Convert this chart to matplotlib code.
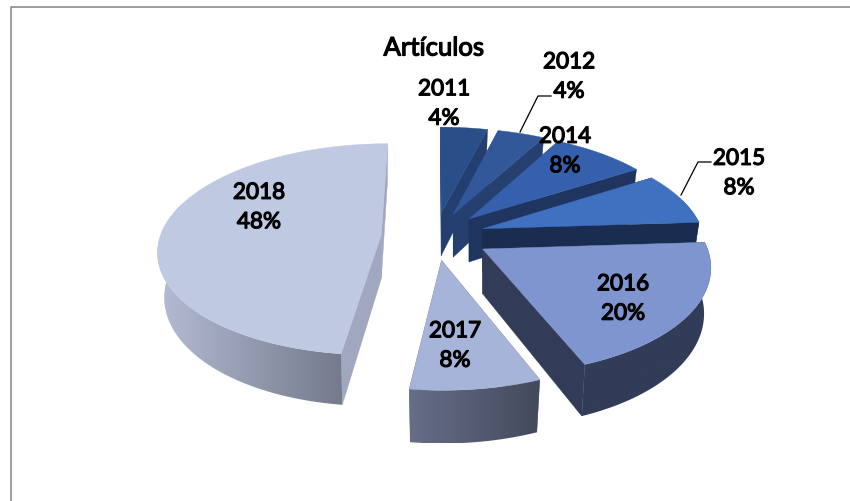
import numpy as np
import matplotlib
matplotlib.use("Agg")
import matplotlib.pyplot as plt
import matplotlib.patheffects as pe
from matplotlib.colors import to_rgb
from matplotlib.patches import Polygon

anos = ["2011", "2012", "2014", "2015", "2016", "2017", "2018"]
porcentajes = [4, 4, 8, 8, 20, 8, 48]

# cores: tapa, pared radial, pared exterior (inicio, fin)
cor_tapa = ["#2a4e87", "#32589a", "#3560ad", "#4070c0", "#7f95cf", "#a5b4d8", "#c0c9e2"]
cor_radial = ["#223f70", "#25406f", "#1f3560", "#1a2d50", "#323c58", "#666e88", "#a0a7bf"]
cor_ext_a = ["#223f70", "#25406f", "#1f3560", "#1a2d50", "#323c58", "#666e88", "#b4bcd4"]
cor_ext_b = ["#223f70", "#25406f", "#1f3560", "#1a2d50", "#323c58", "#444a5c", "#757a8c"]

# posicion de las etiquetas (centro) y orden de dibujo
pos_etiqueta = [(444, 105), (569, 78), (565, 152.5), (739, 174.5), (623, 300), (455, 347), (259, 208.5)]
orden = [0, 1, 2, 3, 6, 4, 5]
ajuste_x = [0, 0, 0, 0, 4, 0, -3]

# proyeccion de la torta
CX, CY = 435, 237
RX = 221
FOCO = 7.12
ALTO = 740
SEPARA = 0.23
GROSOR = 44
FONDO = 0.97  # la cara de abajo se ve un poco mas chica


def proyectar(u, v, dx=0):
    s = FOCO / (FOCO + v)
    x = CX + RX * u * s + dx
    y = CY - ALTO * v / (FOCO + v)
    return x, y, s


def cara(ax, xs, ys, color, z=1):
    ax.add_patch(Polygon(np.column_stack([xs, ys]), closed=True, facecolor=color,
                         edgecolor=color, linewidth=0.3, zorder=z))


def pared_degradada(ax, xs, ys, c1, c2, z):
    # degradado horizontal recortado con la forma de la pared
    borde = Polygon(np.column_stack([xs, ys]), closed=True, facecolor="none",
                    edgecolor="none", zorder=z)
    ax.add_patch(borde)
    pasos = np.linspace(0, 1, 256)[:, None]
    grad = (1 - pasos) * np.array(to_rgb(c1)) + pasos * np.array(to_rgb(c2))
    im = ax.imshow(grad[None, :, :], extent=[min(xs), max(xs), max(ys), min(ys)],
                   aspect="auto", zorder=z, interpolation="bilinear")
    im.set_clip_path(borde)


fig = plt.figure(figsize=(8.5, 5.02), dpi=100)
ax = fig.add_axes([0, 0, 1, 1])
ax.axis("off")

# marco del grafico, solo arriba y a la izquierda
ax.plot([11.5, 11.5, 850], [502, 7.5, 7.5], color="#8c8c8c", lw=1.2, zorder=0)

total = sum(porcentajes)
limites = np.radians(np.cumsum([0] + porcentajes) / total * 360)

z = 1
for i in orden:
    a0, a1 = limites[i], limites[i + 1]
    medio = (a0 + a1) / 2
    du, dv = SEPARA * np.sin(medio), SEPARA * np.cos(medio)
    t = np.linspace(a0, a1, 200)
    u = du + np.sin(t)
    v = dv + np.cos(t)

    xt, yt, st = proyectar(u, v, ajuste_x[i])
    x0, y0, s0 = proyectar(du, dv, ajuste_x[i])

    # cara de abajo: se encoge hacia el vertice de la porcion
    xb = x0 + (xt - x0) * FONDO
    yb = yt + GROSOR * st
    x0b, y0b = x0, y0 + GROSOR * s0

    # paredes radiales
    for k in [0, -1]:
        cara(ax, [x0, xt[k], xb[k], x0b], [y0, yt[k], yb[k], y0b], cor_radial[i], z)
    z += 1

    # pared exterior, solo la parte que mira al frente
    frente = np.cos(t) < 0.3
    if frente.any():
        xs = np.r_[xt[frente], xb[frente][::-1]]
        ys = np.r_[yt[frente], yb[frente][::-1]]
        pared_degradada(ax, xs, ys, cor_ext_a[i], cor_ext_b[i], z)
    z += 1

    # tapa
    cara(ax, np.r_[x0, xt], np.r_[y0, yt], cor_tapa[i], z)
    z += 1

# lineas guia de 2012 y 2015
ax.plot([520, 538, 551], [133, 97, 97], color="black", lw=0.9, zorder=z)
ax.plot([681, 698, 711], [196, 163, 163], color="black", lw=0.9, zorder=z)

grueso = [pe.withStroke(linewidth=0.9, foreground="black")]
for ano, p, (x, y) in zip(anos, porcentajes, pos_etiqueta):
    ax.text(x, y - 14.7, ano, ha="center", va="center", fontsize=16.2, family="Lato",
            color="black", zorder=z + 1, path_effects=grueso)
    ax.text(x, y + 14.7, f"{p}%", ha="center", va="center", fontsize=16.2, family="Lato",
            color="black", zorder=z + 1, path_effects=grueso)

ax.text(434, 49, "Artículos", ha="center", va="center", fontsize=18.5, family="Lato",
        color="black", zorder=z + 1, path_effects=grueso)

ax.set_xlim(0, 850)
ax.set_ylim(502, 0)
fig.savefig("out.png", dpi=100)
